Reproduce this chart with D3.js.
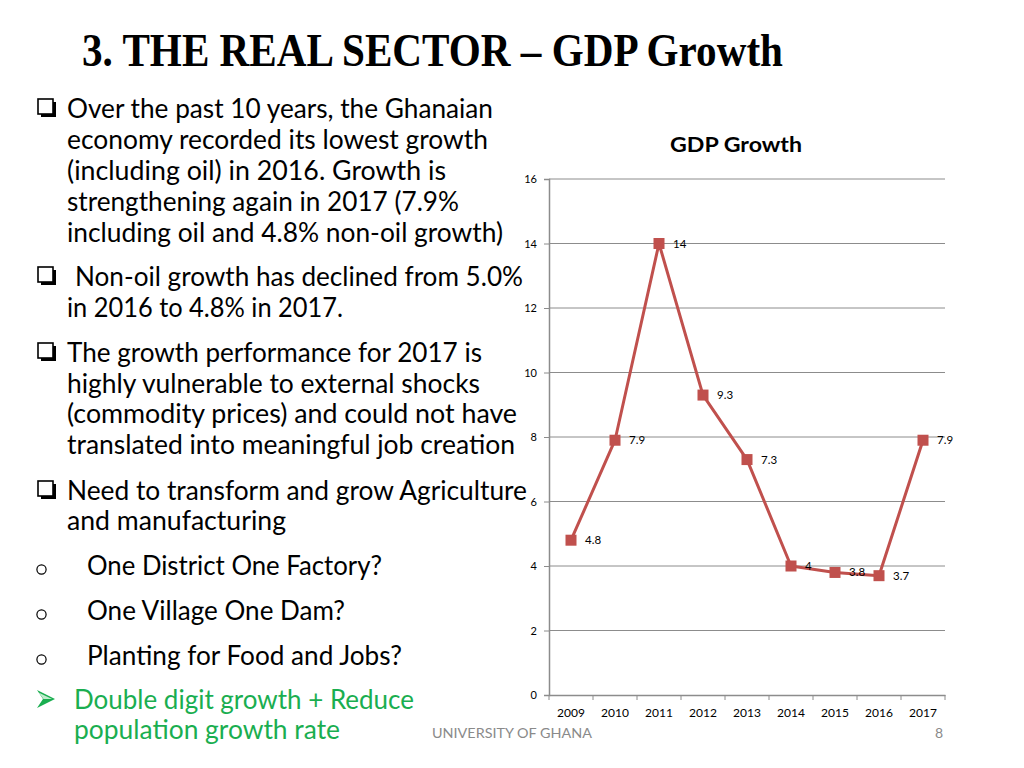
<!DOCTYPE html>
<html><head><meta charset="utf-8">
<script src="https://cdn.jsdelivr.net/npm/d3@7"></script>
<style>html,body{margin:0;padding:0;background:#fff;}svg{display:block;}</style>
</head><body>
<script>
const years = ["2009","2010","2011","2012","2013","2014","2015","2016","2017"];
const growth = [4.8, 7.9, 14, 9.3, 7.3, 4, 3.8, 3.7, 7.9];
const labels = ["4.8","7.9","14","9.3","7.3","4","3.8","3.7","7.9"];
const yTicks = [0, 2, 4, 6, 8, 10, 12, 14, 16];
const slideTitle = "3. THE REAL SECTOR \u2013 GDP Growth";
const chartTitle = "GDP Growth";
const footer = "UNIVERSITY OF GHANA";
const pageNo = "8";
// [text, kind, x, baseline, width]
const lines = [
  ["Over the past 10 years, the Ghanaian","sq",67,118,426],
  ["economy recorded its lowest growth","",67,149,421],
  ["(including oil) in 2016.  Growth is","",67,180,379],
  ["strengthening again in 2017 (7.9%","",67,211,392],
  ["including oil and 4.8% non-oil growth)","",67,242,436],
  ["Non-oil growth has declined from 5.0%","sq",75,286,448],
  ["in 2016 to 4.8% in 2017.","",67,317,276],
  ["The growth performance for 2017 is","sq",67,362,415],
  ["highly vulnerable to external shocks","",67,393,413],
  ["(commodity prices) and could not have","",67,423,450],
  ["translated into meaningful job creation","",67,454,448],
  ["Need to transform and grow Agriculture","sq",67,500,460],
  ["and manufacturing","",67,530,219],
  ["One District One Factory?","o",87,575,295],
  ["One Village One Dam?","o",87,620,258],
  ["Planting for Food and Jobs?","o",87,665,315],
  ["Double digit growth + Reduce","arrow",74,709,340],
  ["population growth rate","",74,739,266]
];

const W = 1024, H = 768;
const svg = d3.select("body").append("svg").attr("width", W).attr("height", H);
svg.append("rect").attr("width", W).attr("height", H).attr("fill", "#fff");

svg.append("text").attr("x", 82).attr("y", 66)
  .attr("font-family", "Liberation Serif, Times New Roman, serif")
  .attr("font-weight", "bold").attr("font-size", 46)
  .attr("textLength", 701).attr("lengthAdjust", "spacingAndGlyphs")
  .attr("fill", "#000").text(slideTitle);

// bullets
lines.forEach(([t, kind, x, y, w]) => {
  const green = kind === "arrow" || t === "population growth rate";
  svg.append("text").attr("x", x).attr("y", y)
    .attr("font-family", "Lato, Carlito, sans-serif").attr("font-size", 27)
    .attr("textLength", w).attr("lengthAdjust", "spacingAndGlyphs")
    .attr("fill", green ? "#1AAE50" : "#000").text(t);
  if (kind === "sq") {
    const bx = 38, by = y - 19;
    svg.append("rect").attr("x", bx + 3).attr("y", by + 3).attr("width", 15).attr("height", 15).attr("fill", "#000");
    svg.append("rect").attr("x", bx).attr("y", by).attr("width", 15).attr("height", 15)
      .attr("fill", "#fff").attr("stroke", "#000").attr("stroke-width", 1.6);
  } else if (kind === "o") {
    svg.append("circle").attr("cx", 41.5).attr("cy", y - 5.5).attr("r", 4.6)
      .attr("fill", "none").attr("stroke", "#000").attr("stroke-width", 1.2);
  } else if (kind === "arrow") {
    const ax = 37, ay = y - 10;
    svg.append("path").attr("d", `M${ax},${ay-9} L${ax+18},${ay} L${ax},${ay+9} L${ax+6},${ay} Z`)
      .attr("fill", "#1AAE50");
    svg.append("path").attr("d", `M${ax+1.5},${ay-6.5} L${ax+15},${ay} L${ax+6.5},${ay} Z`)
      .attr("fill", "#bfeccd");
  }
});

// chart
const x0 = 549, x1 = 945, yTop = 179, yBot = 695;
const x = d3.scaleBand().domain(years).range([x0, x1]);
const y = d3.scaleLinear().domain([0, 16]).range([yBot, yTop]);

svg.append("text").attr("x", 736).attr("y", 152).attr("text-anchor", "middle")
  .attr("font-family", "Lato, Carlito, sans-serif").attr("font-weight", "bold")
  .attr("font-size", 20).attr("textLength", 132).attr("lengthAdjust", "spacingAndGlyphs")
  .attr("fill", "#000").text(chartTitle);

const grid = svg.append("g");
grid.selectAll("line").data(yTicks.filter(d => d > 0)).join("line")
  .attr("x1", x0).attr("x2", x1).attr("y1", d => y(d)).attr("y2", d => y(d))
  .attr("stroke", "#8c8c8c").attr("stroke-width", 1);

const yAxis = svg.append("g").attr("transform", `translate(${x0},0)`)
  .call(d3.axisLeft(y).tickValues(yTicks).tickSize(5).tickPadding(7));
yAxis.select(".domain").attr("stroke", "#8c8c8c").attr("stroke-width", 1.5);
yAxis.selectAll(".tick line").attr("stroke", "#8c8c8c");
yAxis.selectAll("text").attr("font-family", "Lato, Carlito, sans-serif").attr("font-size", 11).attr("fill", "#000");

const xAxis = svg.append("g").attr("transform", `translate(0,${yBot})`)
  .call(d3.axisBottom(x).tickSize(0).tickPadding(13));
xAxis.select(".domain").attr("stroke", "#8c8c8c").attr("stroke-width", 1.5);
xAxis.selectAll("text").attr("font-family", "Lato, Carlito, sans-serif").attr("font-size", 12).attr("fill", "#000");
// category boundary ticks
svg.append("g").selectAll("line").data(years.concat(["end"])).join("line")
  .attr("x1", (d, i) => x0 + i * x.step()).attr("x2", (d, i) => x0 + i * x.step())
  .attr("y1", yBot).attr("y2", yBot + 5).attr("stroke", "#8c8c8c");

const cx = d => x(d) + x.bandwidth() / 2;
const line = d3.line().x((d, i) => cx(years[i])).y(d => y(d));
svg.append("path").datum(growth).attr("d", line)
  .attr("fill", "none").attr("stroke", "#C0504D").attr("stroke-width", 3).attr("stroke-linejoin", "round");
svg.append("g").selectAll("rect").data(growth).join("rect")
  .attr("x", (d, i) => cx(years[i]) - 5.5).attr("y", d => y(d) - 5.5)
  .attr("width", 11).attr("height", 11).attr("fill", "#C0504D");
svg.append("g").selectAll("text").data(growth).join("text")
  .attr("x", (d, i) => cx(years[i]) + 14).attr("y", d => y(d) + 4)
  .attr("font-family", "Lato, Carlito, sans-serif").attr("font-size", 11.5).attr("fill", "#000")
  .text((d, i) => labels[i]);

svg.append("text").attr("x", 432).attr("y", 738)
  .attr("font-family", "Lato, Carlito, sans-serif").attr("font-size", 14)
  .attr("textLength", 160).attr("lengthAdjust", "spacingAndGlyphs")
  .attr("fill", "#8a8a8a").text(footer);
svg.append("text").attr("x", 943).attr("y", 738).attr("text-anchor", "end")
  .attr("font-family", "Lato, Carlito, sans-serif").attr("font-size", 14)
  .attr("fill", "#8a8a8a").text(pageNo);
</script>
</body></html>
